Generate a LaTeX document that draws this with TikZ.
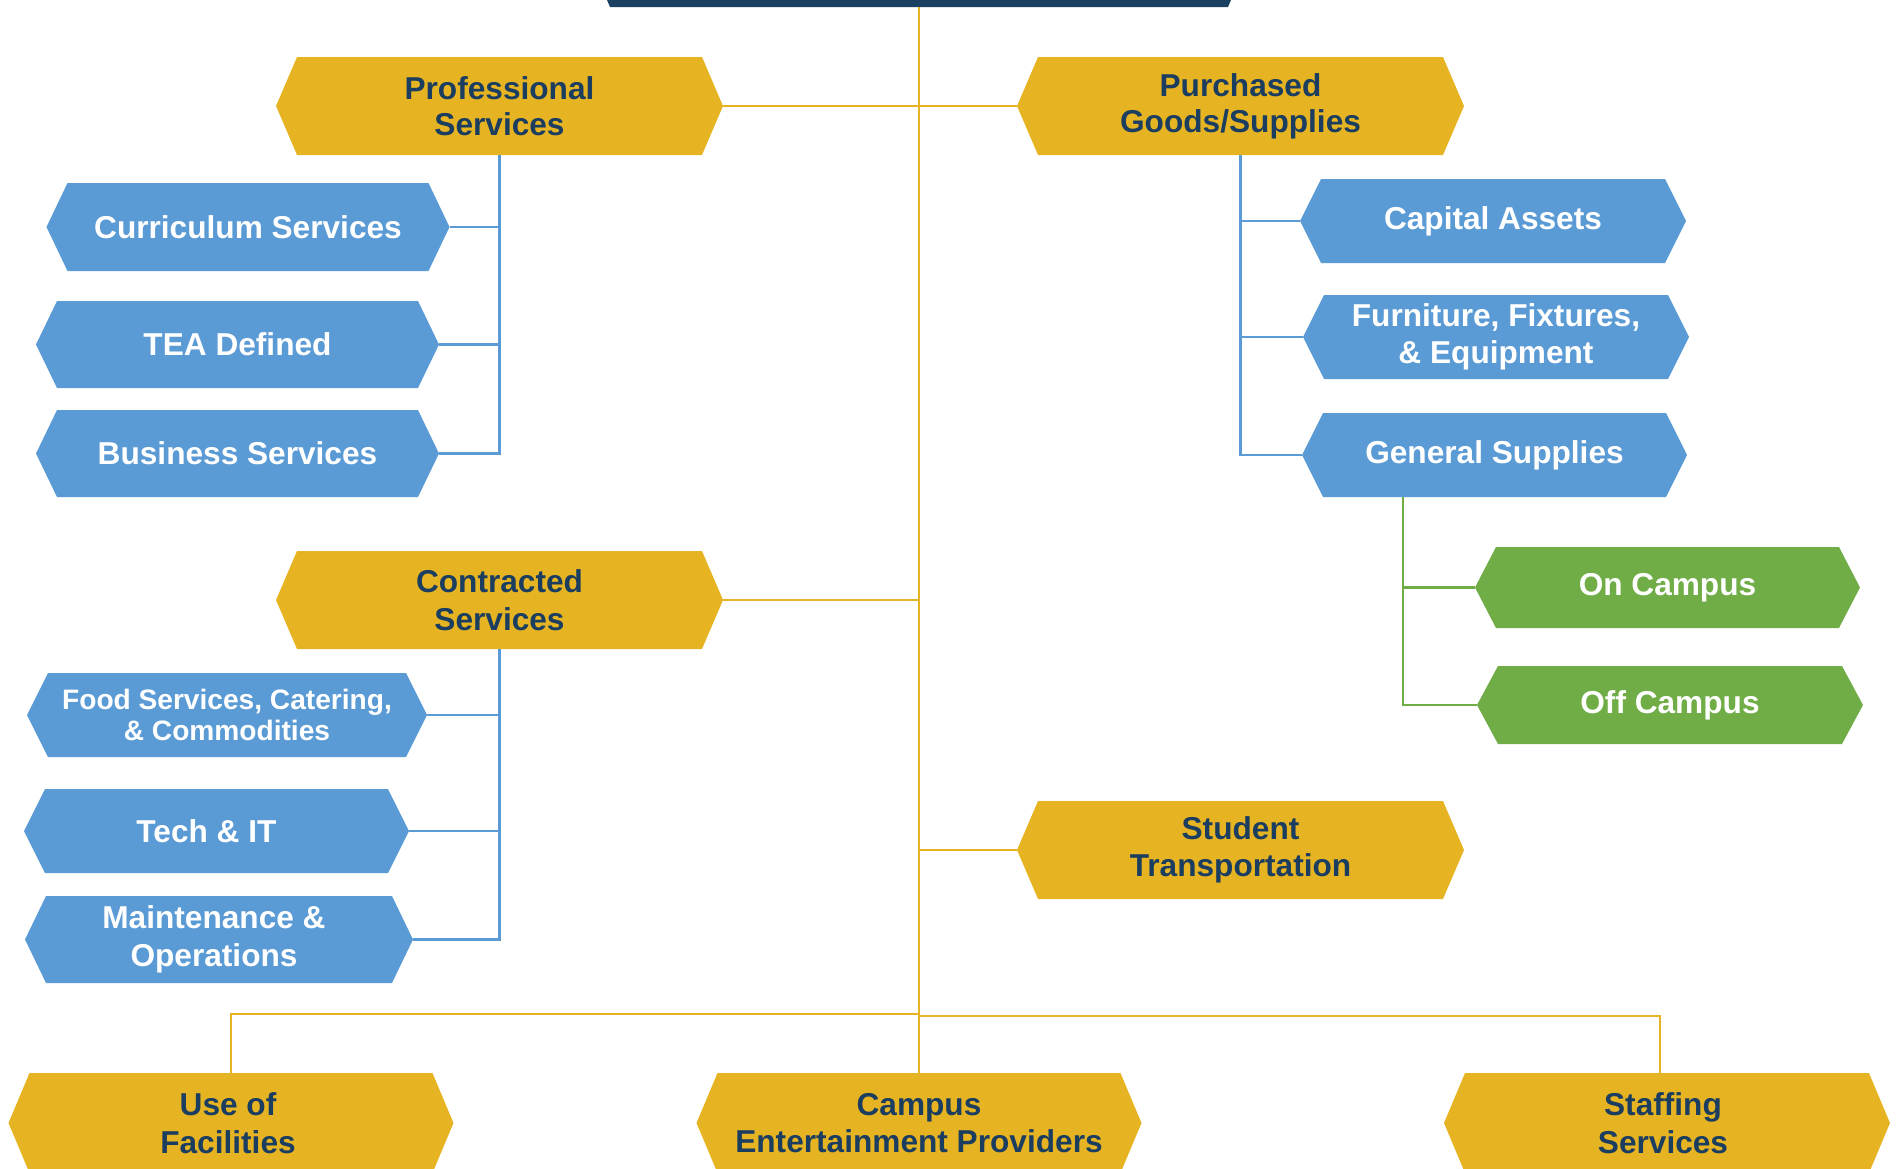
\documentclass[tikz,border=0pt]{standalone}
\usepackage{fontspec}
\setmainfont{Liberation Sans}
\definecolor{ygold}{HTML}{E6B422}
\definecolor{hblue}{HTML}{5B9BD5}
\definecolor{hgreen}{HTML}{70AD47}
\definecolor{navytxt}{HTML}{1B3D5F}
\definecolor{navybar}{HTML}{1A4162}
\def\hexinset{0.21cm}
\tikzset{
  hexa/.style={shape=rectangle, inner sep=0pt, outer sep=0pt, align=center,
    font=\bfseries\fontsize{9}{10.7}\selectfont,
    path picture={\fill[#1]
      ([xshift=\hexinset]path picture bounding box.north west) --
      ([xshift=-\hexinset]path picture bounding box.north east) --
      (path picture bounding box.east) --
      ([xshift=-\hexinset]path picture bounding box.south east) --
      ([xshift=\hexinset]path picture bounding box.south west) --
      (path picture bounding box.west) -- cycle;}},
  sz/.style 2 args={minimum width=#1cm, minimum height=#2cm},
  ynode/.style={hexa=ygold, text=navytxt},
  bnode/.style={hexa=hblue, text=white},
  gnode/.style={hexa=hgreen, text=white},
  yline/.style={draw=ygold, line width=0.8pt},
  bline/.style={draw=hblue, line width=0.6pt},
  gline/.style={draw=hgreen, line width=0.7pt},
}
\begin{document}
\begin{tikzpicture}
\useasboundingbox (0,0) rectangle (18.98,-11.69);
\clip (0,0) rectangle (18.98,-11.69);

% top bar
\node[hexa=navybar, sz={6.6}{0.98}] (top) at (9.19,0.42) {};

% level 1
\node[ynode, sz={4.47}{0.98}, font=\bfseries\fontsize{9}{10.2}\selectfont] (prof) at (4.995,-1.06) {Professional\\Services};
\node[ynode, sz={4.47}{0.98}, font=\bfseries\fontsize{9}{10.2}\selectfont] (purch) at (12.405,-1.06) {Purchased\\Goods/Supplies};
\node[ynode, sz={4.47}{0.98}] (con) at (4.995,-6.00) {Contracted\\Services};
\node[ynode, sz={4.47}{0.98}] (stud) at (12.405,-8.50) {Student\\Transportation};

% professional children
\node[bnode, sz={4.03}{0.88}] (cur) at (2.48,-2.27) {Curriculum Services};
\node[bnode, sz={4.03}{0.87}] (tea) at (2.375,-3.445) {TEA Defined};
\node[bnode, sz={4.03}{0.87}] (bus) at (2.375,-4.535) {Business Services};

% purchased children
\node[bnode, sz={3.86}{0.84}] (cap) at (14.93,-2.21) {Capital Assets};
\node[bnode, sz={3.86}{0.84}] (fur) at (14.96,-3.37) {Furniture, Fixtures,\\\& Equipment};
\node[bnode, sz={3.85}{0.84}] (gen) at (14.945,-4.55) {General Supplies};

% general supplies children
\node[gnode, sz={3.85}{0.81}] (on) at (16.675,-5.875) {On Campus};
\node[gnode, sz={3.86}{0.78}] (off) at (16.70,-7.05) {Off Campus};

% contracted children
\node[bnode, sz={4.00}{0.84}, font=\bfseries\fontsize{8}{8.6}\selectfont] (food) at (2.27,-7.15) {Food Services, Catering,\\\& Commodities};
\node[bnode, sz={3.85}{0.84}] (tech) at (2.165,-8.31) {\hspace*{-0.2cm}Tech \& IT};
\node[bnode, sz={3.88}{0.87}] (maint) at (2.19,-9.395) {\hspace*{-0.1cm}Maintenance \&\\\hspace*{-0.1cm}Operations};

% bottom row
\node[ynode, sz={4.45}{1.00}] (use) at (2.31,-11.23) {\hspace*{-0.06cm}Use of\\\hspace*{-0.06cm}Facilities};
\node[ynode, sz={4.45}{1.00}] (campus) at (9.19,-11.23) {Campus\\Entertainment Providers};
\node[ynode, sz={4.46}{1.00}] (staff) at (16.67,-11.23) {\hspace*{-0.08cm}Staffing\\\hspace*{-0.08cm}Services};

% trunk and yellow connectors
\draw[yline] (top.south) -- (campus.north);
\draw[yline] (prof.east) -- (prof.east -| top.south);
\draw[yline] (purch.west) -- (purch.west -| top.south);
\draw[yline] (con.east) -- (con.east -| top.south);
\draw[yline] (stud.west) -- (stud.west -| top.south);
\coordinate (busL) at (9.19,-10.14);
\coordinate (busR) at (9.19,-10.16);
\coordinate (staffTop) at ([xshift=-0.07cm]staff.north);
\draw[yline] (use.north) |- (busL);
\draw[yline] (staffTop) |- (busR);

% blue brackets
\draw[bline] (prof.south) |- (bus.east);
\draw[bline] (cur.east) -- (cur.east -| prof.south);
\draw[bline] (tea.east) -- (tea.east -| prof.south);

\draw[bline] (con.south) |- (maint.east);
\draw[bline] (food.east) -- (food.east -| con.south);
\draw[bline] (tech.east) -- (tech.east -| con.south);

\draw[bline] (purch.south) |- (gen.west);
\draw[bline] (cap.west) -- (cap.west -| purch.south);
\draw[bline] (fur.west) -- (fur.west -| purch.south);

% green bracket
\coordinate (g0) at (14.03,-4.97);
\draw[gline] (g0) |- (off.west);
\draw[gline] (on.west) -- (on.west -| g0);
\end{tikzpicture}
\end{document}
